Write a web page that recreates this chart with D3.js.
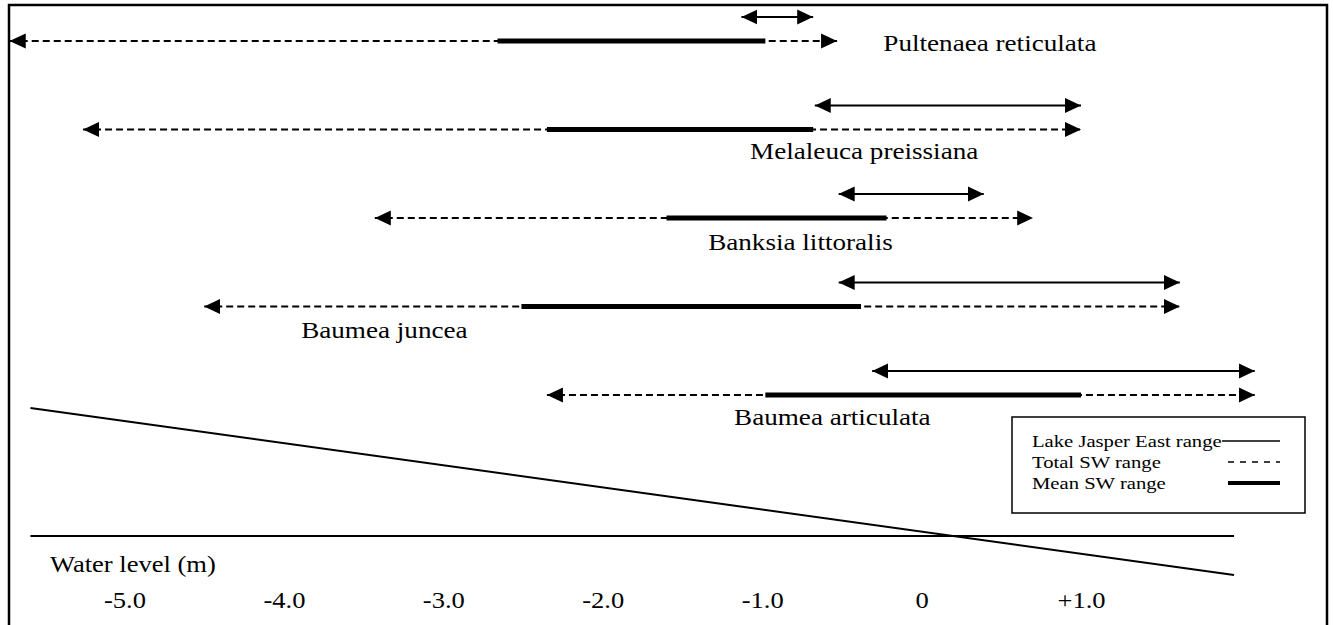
<!DOCTYPE html>
<html>
<head>
<meta charset="utf-8">
<script src="https://cdn.jsdelivr.net/npm/d3@7"></script>
<style>
  body { margin: 0; background: #fff; }
  svg text { font-family: "Liberation Serif", "Times New Roman", Times, serif; }
</style>
</head>
<body>
<div id="chart"></div>
<script>
// Species, from top to bottom
const species = ["Pultenaea reticulata", "Melaleuca preissiana", "Banksia littoralis", "Baumea juncea", "Baumea articulata"];

// Total SW range (m) : min / max
const totalMin = [-5.72, -5.26, -3.43, -4.50, -2.35];
const totalMax = [-0.53, 1.00, 0.70, 1.62, 2.09];

// Mean SW range (m)
const meanMin = [-2.66, -2.35, -1.60, -2.51, -0.98];
const meanMax = [-0.98, -0.68, -0.22, -0.38, 1.00];

// Lake Jasper East range (m)
const lakeMin = [-1.13, -0.67, -0.52, -0.52, -0.31];
const lakeMax = [-0.68, 1.00, 0.39, 1.62, 2.09];

// Axis ticks
const tickValues = [-5, -4, -3, -2, -1, 0, 1];
const tickLabels = ["-5.0", "-4.0", "-3.0", "-2.0", "-1.0", "0", "+1.0"];

// Schematic slope line (water level, m / relative height)
const slopeX = [-5.59, 1.96];
const slopeY = [1, 0];

const legendLabels = ["Lake Jasper East range", "Total SW range", "Mean SW range"];

//---------------------------------------------------------------------------------------

const width = 1333;
const height = 625;
const serif = "'Liberation Serif', 'Times New Roman', Times, serif";
// la figure d'origine est étirée horizontalement : on étire aussi le texte
const stretch = 1.18;

const rows = species.map((s, i) => ({
    name: s,
    tMin: totalMin[i], tMax: totalMax[i],
    mMin: meanMin[i], mMax: meanMax[i],
    lMin: lakeMin[i], lMax: lakeMax[i]
}));

const svg = d3.select("#chart")
    .append("svg")
    .attr("width", width)
    .attr("height", height)
    .attr("font-family", serif);

// Scales
const x = d3.scaleLinear()
    .domain([-5, 1])
    .range([124.5, 1081]);

const y = d3.scalePoint()
    .domain(species)
    .range([41, 395]);

const yRel = d3.scaleLinear()
    .domain([0, 1])
    .range([575, 408]);

const lakeOffset = -24;

// Cadre
svg.append("rect")
    .attr("x", 9)
    .attr("y", 5)
    .attr("width", 1318)
    .attr("height", 650)
    .attr("fill", "none")
    .attr("stroke", "#000")
    .attr("stroke-width", 2.5);

// Flèches (markers)
const defs = svg.append("defs");
["start", "end"].forEach(k => {
    defs.append("marker")
        .attr("id", "arrow-" + k)
        .attr("markerUnits", "userSpaceOnUse")
        .attr("viewBox", "0 -8 16 16")
        .attr("refX", 16)
        .attr("refY", 0)
        .attr("markerWidth", 16)
        .attr("markerHeight", 16)
        .attr("orient", k === "start" ? "auto-start-reverse" : "auto")
        .append("path")
        .attr("d", "M0,-7.5L16,0L0,7.5Z")
        .attr("fill", "#000");
});

const plot = svg.append("g");

// Total SW range (dashed)
plot.selectAll(".total")
    .data(rows)
    .join("line")
    .attr("class", "total")
    .attr("x1", d => x(d.tMin))
    .attr("x2", d => x(d.tMax))
    .attr("y1", d => y(d.name))
    .attr("y2", d => y(d.name))
    .attr("stroke", "#000")
    .attr("stroke-width", 2)
    .attr("stroke-dasharray", "7,4")
    .attr("marker-start", "url(#arrow-start)")
    .attr("marker-end", "url(#arrow-end)");

// Mean SW range (bold)
plot.selectAll(".mean")
    .data(rows)
    .join("line")
    .attr("class", "mean")
    .attr("x1", d => x(d.mMin))
    .attr("x2", d => x(d.mMax))
    .attr("y1", d => y(d.name))
    .attr("y2", d => y(d.name))
    .attr("stroke", "#000")
    .attr("stroke-width", 5);

// Lake Jasper East range
plot.selectAll(".lake")
    .data(rows)
    .join("line")
    .attr("class", "lake")
    .attr("x1", d => x(d.lMin))
    .attr("x2", d => x(d.lMax))
    .attr("y1", d => y(d.name) + lakeOffset)
    .attr("y2", d => y(d.name) + lakeOffset)
    .attr("stroke", "#000")
    .attr("stroke-width", 2)
    .attr("marker-start", "url(#arrow-start)")
    .attr("marker-end", "url(#arrow-end)");

// Noms d'espèces : à droite pour la première, en dessous pour les autres
const labelPlace = {
    "Pultenaea reticulata": { at: -0.24, dy: 10, anchor: "start" },
    "Melaleuca preissiana": { at: -0.36, dy: 29, anchor: "middle" },
    "Banksia littoralis": { at: -0.76, dy: 32, anchor: "middle" },
    "Baumea juncea": { at: -3.37, dy: 31, anchor: "middle" },
    "Baumea articulata": { at: -0.56, dy: 30, anchor: "middle" }
};

plot.selectAll(".label")
    .data(rows)
    .join("text")
    .attr("class", "label")
    .attr("transform", d => `translate(${x(labelPlace[d.name].at)}, ${y(d.name) + labelPlace[d.name].dy}) scale(${stretch}, 1)`)
    .attr("text-anchor", d => labelPlace[d.name].anchor)
    .attr("font-size", "23px")
    .text(d => d.name);

// Ligne de pente et niveau
svg.append("line")
    .attr("x1", x(slopeX[0]))
    .attr("x2", x(slopeX[1]))
    .attr("y1", yRel(slopeY[0]))
    .attr("y2", yRel(slopeY[1]))
    .attr("stroke", "#000")
    .attr("stroke-width", 2);

svg.append("line")
    .attr("x1", x(slopeX[0]))
    .attr("x2", x(slopeX[1]))
    .attr("y1", 536)
    .attr("y2", 536)
    .attr("stroke", "#000")
    .attr("stroke-width", 2);

// Axe
const axis = svg.append("g")
    .attr("transform", "translate(0, 608)")
    .call(d3.axisBottom(x)
        .tickValues(tickValues)
        .tickFormat((d, i) => tickLabels[i])
        .tickSize(0))
    .attr("font-family", serif)
    .attr("font-size", 22.5);

axis.select(".domain").remove();
axis.selectAll("text")
    .attr("y", 0)
    .attr("dy", 0)
    .attr("transform", `scale(${stretch}, 1)`)
    .attr("fill", "#000");

svg.append("text")
    .attr("transform", `translate(50, 572) scale(${stretch}, 1)`)
    .attr("font-size", "22.5px")
    .text("Water level (m)");

// Légende
const legend = svg.append("g")
    .attr("transform", "translate(1012, 417)");

legend.append("rect")
    .attr("width", 293)
    .attr("height", 96)
    .attr("fill", "#fff")
    .attr("stroke", "#000")
    .attr("stroke-width", 1.5);

const legendItems = legend.selectAll(".item")
    .data(legendLabels)
    .join("g")
    .attr("class", "item")
    .attr("transform", (d, i) => `translate(20, ${24 + i * 21})`);

legendItems.append("text")
    .attr("transform", `translate(0, 6) scale(${stretch}, 1)`)
    .attr("font-size", "17.5px")
    .text(d => d);

legendItems.append("line")
    .attr("x1", (d, i) => i === 0 ? 190 : 196)
    .attr("x2", 248)
    .attr("stroke", "#000")
    .attr("stroke-width", (d, i) => i === 2 ? 4 : 1.5)
    .attr("stroke-dasharray", (d, i) => i === 1 ? "6,6" : null);
</script>
</body>
</html>
